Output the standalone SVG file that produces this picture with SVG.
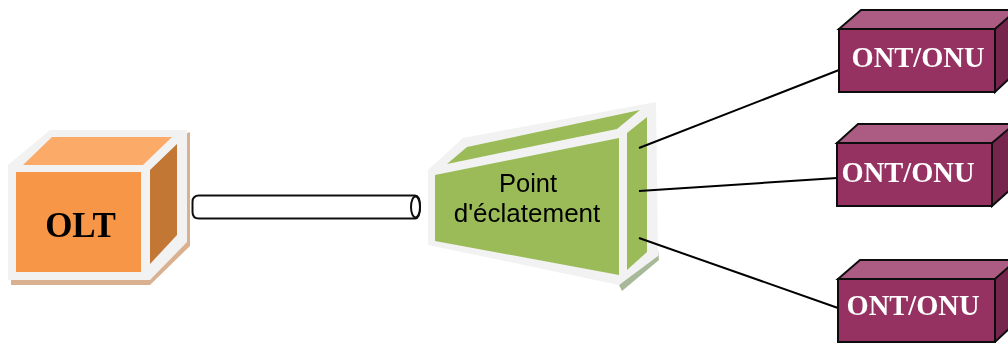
<svg xmlns="http://www.w3.org/2000/svg" width="1008" height="343" viewBox="0 0 1008 343">
<style>
.frame{fill:#f2f2f2}
.ont-front{fill:#953262;stroke:#111;stroke-width:2}
.ont-top{fill:#ac5c82;stroke:#111;stroke-width:2}
.ont-side{fill:#76264e;stroke:#111;stroke-width:2}
.ont-text{font-family:"Liberation Serif",serif;font-weight:bold;font-size:28.5px;fill:#fff;text-anchor:middle}
.wire{fill:none;stroke:#000;stroke-width:2}
.soft{filter:url(#b)}
</style>
<defs><filter id="b" x="-5%" y="-5%" width="110%" height="110%"><feGaussianBlur stdDeviation="0.5"/></filter></defs>
<rect width="1008" height="343" fill="#fff"/>
<g class="soft">
<g id="olt">
<path d="M11 285L150 285L190 246L190 132L11 200Z" fill="#d9b190"/>
<path d="M8 165L50 130L187 130L187 242L150 280L8 280Z" class="frame"/>
<path d="M23 165L52 137L172 137L143 165Z" fill="#fbaa68"/>
<rect x="16" y="172" width="125" height="100" fill="#f79646"/>
<path d="M150 170L177 144L177 235L150 264Z" fill="#c27735"/>
<text x="80.500" y="237" style="font-family:'Liberation Serif',serif;font-weight:bold;font-size:35px;fill:#000;text-anchor:middle">OLT</text>
</g>
<g id="splitter">
<path d="M619 285L622 291L659 260L658 250Z" fill="#a8b99a"/>
<path d="M428 170L463 138L656 102L658 256L619 285L428 245Z" class="frame"/>
<path d="M447 164L467 147L640 110L617 129Z" fill="#9bbb59"/>
<path d="M435 175L619 138L619 275L435 241Z" fill="#9bbb59"/>
<path d="M627 133L647 117L647 252L627 270Z" fill="#9bbb59"/>
<text x="528" y="192" style="font-family:'Liberation Sans',sans-serif;font-size:25.500px;fill:#000;text-anchor:middle">Point</text>
<text x="527" y="222" style="font-family:'Liberation Sans',sans-serif;font-size:26px;fill:#000;text-anchor:middle">d'éclatement</text>
</g>
<g id="connectors">
<path class="wire" d="M639 148L839 70M639 191L837 178M639 238L838 308"/>
<path d="M199 195.500H415Q420 195.500 420 207Q420 218.500 415 218.500H199Q192.500 218.500 192.500 212V202Q192.500 195.500 199 195.500Z" fill="#fff" stroke="#111" stroke-width="2"/>
<ellipse cx="415.500" cy="207" rx="4.500" ry="10.500" fill="#fff" stroke="#111" stroke-width="2"/>
</g>
<g id="ont1">
<path class="ont-top" d="M839 29L861 10H1012V17L995 29Z"/>
<path class="ont-side" d="M995 29L1012 14V76L995 92Z"/>
<rect class="ont-front" x="839" y="29" width="156" height="63"/>
<text class="ont-text" x="918" y="67">ONT/ONU</text>
</g>
<g id="ont2">
<path class="ont-top" d="M837 143L858 124H1012V131L992 143Z"/>
<path class="ont-side" d="M992 143L1012 126V188L992 206Z"/>
<rect class="ont-front" x="837" y="143" width="155" height="63"/>
<text class="ont-text" x="908" y="182">ONT/ONU</text>
</g>
<g id="ont3">
<path class="ont-top" d="M838 279L860 260H1012V266L995 279Z"/>
<path class="ont-side" d="M995 279L1012 264V326L995 342Z"/>
<rect class="ont-front" x="838" y="279" width="157" height="63"/>
<text class="ont-text" x="913" y="315">ONT/ONU</text>
</g>
</g>
</svg>
